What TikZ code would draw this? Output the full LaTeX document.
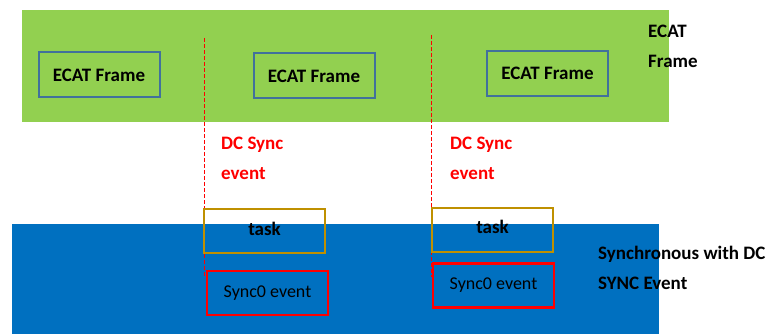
\documentclass[tikz,border=0pt]{standalone}
\usepackage{fontspec}
\setmainfont{Carlito}
\definecolor{framegreen}{RGB}{146,208,80}
\definecolor{syncblue}{RGB}{0,112,192}
\definecolor{boxslate}{RGB}{65,113,156}
\definecolor{taskgold}{RGB}{191,144,0}
\begin{document}
\begin{tikzpicture}[x=1pt,y=-1pt,
	framebox/.style={draw=boxslate, line width=2pt, minimum width=121pt, minimum height=45pt, font=\bfseries\fontsize{19}{22}\selectfont},
	taskbox/.style={draw=taskgold, line width=2pt, minimum width=121pt, minimum height=44pt, text depth=5pt, font=\bfseries\fontsize{19}{22}\selectfont},
	eventbox/.style={draw=red, line width=2.5pt, minimum width=121pt, minimum height=44pt, font=\fontsize{18}{22}\selectfont},
	dcline/.style={red, dash pattern=on 4pt off 2pt, line width=0.9pt},
	sidelabel/.style={anchor=north west, align=left, inner sep=0pt, font=\bfseries\fontsize{19}{30}\selectfont}
	]
	\useasboundingbox (0,0) rectangle (771,334);
	\fill[framegreen] (22,10) rectangle (669,122);
	\fill[syncblue] (12,224) rectangle (659,334);
	\coordinate (dcTopA) at (204,38);
	\coordinate (dcEndA) at (204,278);
	\coordinate (dcTopB) at (431,35);
	\coordinate (dcEndB) at (431,277);
	\draw[dcline] (dcTopA) -- (dcEndA);
	\draw[dcline] (dcTopB) -- (dcEndB);
	\node[framebox] (frameA) at (99,75) {ECAT Frame};
	\node[framebox] (frameB) at (314,76) {ECAT Frame};
	\node[framebox] (frameC) at (547.5,73.5) {ECAT Frame};
	\node[taskbox] (taskA) at (264.5,231) {task};
	\node[taskbox] (taskB) at (492.5,229.5) {task};
	\node[eventbox] (syncA) at (267.5,293) {Sync0 event};
	\node[eventbox] (syncB) at (493.5,285.5) {Sync0 event};
	\node[sidelabel, text=red] (dcA) at (221,137) {DC Sync\\event};
	\node[sidelabel, text=red] (dcB) at (450,137) {DC Sync\\event};
	\node[sidelabel] (frameLabel) at (648,25) {ECAT\\Frame};
	\node[sidelabel] (syncLabel) at (598,246) {Synchronous with DC\\SYNC Event};
\end{tikzpicture}
\end{document}
